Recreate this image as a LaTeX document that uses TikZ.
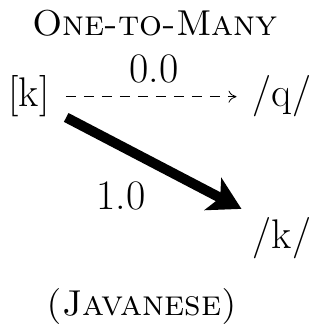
\documentclass[tikz,border=0pt]{standalone}
\usepackage{tikz}
\usetikzlibrary{arrows.meta}
\tikzset{
  seg/.style={font=\fontsize{20.7}{24}\selectfont, inner sep=2pt, anchor=base},
  ttl/.style={font=\fontsize{18}{22}\selectfont\scshape, inner sep=0pt, anchor=base},
  prob/.style={font=\fontsize{21}{24}\selectfont, inner sep=0pt, anchor=base},
  weak/.style={-{To[length=4pt,width=6pt]}, dash pattern=on 5pt off 4pt, thin},
  strong/.style={-{Stealth[length=16pt,width=18pt,inset=4pt]}, line width=5pt},
}
\begin{document}
\begin{tikzpicture}[x=0.5pt,y=-0.5pt]
    \useasboundingbox (0,0) rectangle (320,331);
    \node[ttl] (title) at (155,36) {One-to-Many};
    \node[seg] (src) at (29,107) {[k]};
    \node[seg] (tq) at (282,107) {/q/};
    \node[seg] (tk) at (282,248) {/k/};
    \draw[weak, shorten <=6pt, shorten >=6pt] (src) -- (tq);
    \node[prob] (p0) at (154,83) {0.0};
    \draw[strong, shorten <=7pt, shorten >=4pt] (src.330) -- (tk.north west);
    \node[prob] (p1) at (121,209) {1.0};
    \node[ttl] (lang) at (142,315) {(Javanese)};
  \end{tikzpicture}
\end{document}
